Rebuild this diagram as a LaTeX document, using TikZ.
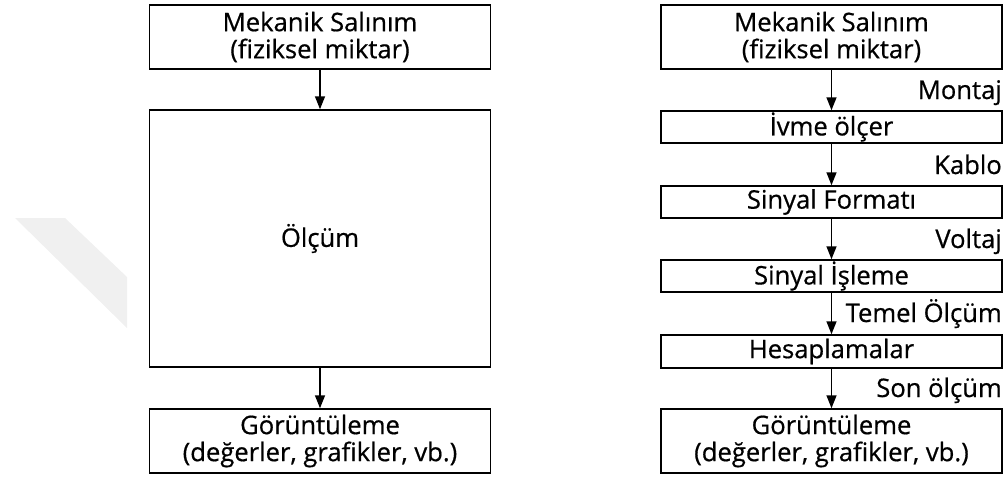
\documentclass[tikz,border=0pt]{standalone}
\usepackage{fontspec}
\setmainfont{Open Sans}[UprightFeatures={FakeBold=0.6}]
\usetikzlibrary{arrows.meta}
\begin{document}
\begin{tikzpicture}[x=1pt,y=1pt,
  box/.style={draw=black, line width=1.5pt, minimum width=341pt, inner sep=0pt, align=center, font=\fontsize{25.6}{27}\selectfont},
  arr/.style={line width=1.5pt, -{Triangle[length=13pt,width=10pt]}},
  lbl/.style={anchor=base east, inner sep=0pt, font=\fontsize{25.6}{27}\selectfont}]
\useasboundingbox (0,0) rectangle (1005,-479);
% faint watermark fragment
\fill[black!6] (15,-218) -- (65,-218) -- (127,-277) -- (127,-328) -- cycle;
% left column
\node[box, minimum height=64pt] (L1) at (320,-37) {Mekanik Salınım\\(fiziksel miktar)};
\node[box, minimum height=257pt] (L2) at (320,-238.5) {Ölçüm};
\node[box, minimum height=64pt] (L3) at (320,-441) {Görüntüleme\\(değerler, grafikler, vb.)};
\draw[arr] (L1) -- (L2);
\draw[arr] (L2) -- (L3);
% right column
\node[box, minimum height=64pt] (R1) at (831.5,-37) {Mekanik Salınım\\(fiziksel miktar)};
\node[box, minimum height=32pt] (R2) at (831.5,-127) {İvme ölçer};
\node[box, minimum height=32pt] (R3) at (831.5,-202) {Sinyal Formatı};
\node[box, minimum height=32pt] (R4) at (831.5,-276) {Sinyal İşleme};
\node[box, minimum height=33pt] (R5) at (831.5,-351.5) {Hesaplamalar};
\node[box, minimum height=64pt] (R6) at (831.5,-441) {Görüntüleme\\(değerler, grafikler, vb.)};
\draw[arr] (R1) -- (R2);
\draw[arr] (R2) -- (R3);
\draw[arr] (R3) -- (R4);
\draw[arr] (R4) -- (R5);
\draw[arr] (R5) -- (R6);
\node[lbl] (t1) at (1002,-99) {Montaj};
\node[lbl] (t2) at (1002,-174) {Kablo};
\node[lbl] (t3) at (1002,-248) {Voltaj};
\node[lbl] (t4) at (1002,-322) {Temel Ölçüm};
\node[lbl] (t5) at (1002,-397) {Son ölçüm};
\end{tikzpicture}
\end{document}
